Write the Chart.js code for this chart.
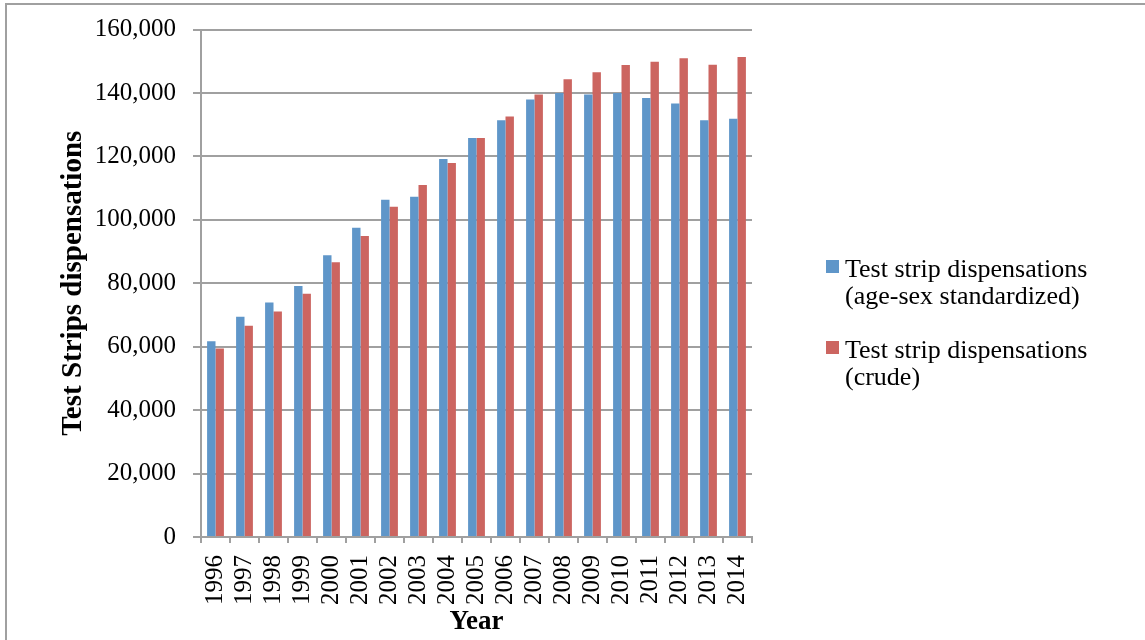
<!DOCTYPE html>
<html>
<head>
<meta charset="utf-8">
<title>Test strip dispensations</title>
<script src="https://cdn.jsdelivr.net/npm/chart.js@4/dist/chart.umd.min.js"></script>
<style>
    body { margin: 0; background: #fff; }
    #wrap { width: 1145px; height: 640px; position: relative; }
</style>
</head>
<body>
<div id="wrap"><canvas id="myChart"></canvas></div>
<script>

const years = ['1996', '1997', '1998', '1999', '2000', '2001', '2002', '2003', '2004', '2005',
    '2006', '2007', '2008', '2009', '2010', '2011', '2012', '2013', '2014']

const standardized = [61700, 69400, 73900, 79100, 88800, 97500, 106300, 107300, 119200, 125800,
    131400, 137900, 140000, 139500, 140000, 138400, 136700, 131400, 131900]

const crude = [59400, 66600, 71100, 76700, 86600, 94900, 104100, 111000, 117900, 125800,
    132600, 139500, 144300, 146500, 148800, 149800, 150900, 148900, 151300]

const seriesLabels = [
    ['Test strip dispensations', '(age-sex standardized)'],
    ['Test strip dispensations', '(crude)']
]
const seriesColors = ['#5F96C9', '#CC6560']

const yMax = 160000
const yStep = 20000

const SERIF = '"Liberation Serif", "DejaVu Serif", serif'
const GRIS = '#a0a0a0'

// leyenda y marco dibujados a mano
const leyendaPlugin = {
    id: 'leyenda',
    afterDraw: (chart) => {
        const ctx = chart.ctx
        ctx.save()
        ctx.strokeStyle = GRIS
        ctx.lineWidth = 2
        ctx.beginPath()
        ctx.moveTo(6, 640)
        ctx.lineTo(6, 4)
        ctx.lineTo(1145, 4)
        ctx.stroke()

        ctx.font = '26px ' + SERIF
        ctx.textBaseline = 'alphabetic'
        ctx.textAlign = 'left'
        const tops = [260, 341]
        chart.data.datasets.forEach((ds, i) => {
            ctx.fillStyle = ds.backgroundColor
            ctx.fillRect(826, tops[i], 13, 13)
            ctx.fillStyle = '#000'
            ds.label.forEach((linea, j) => {
                ctx.fillText(linea, 845, tops[i] + 17 + j * 26.5)
            })
        })
        ctx.restore()
    }
}

var ctx = document.getElementById('myChart')
var myChart = new Chart(ctx, {
    type: 'bar',
    data: {
        labels: years,
        datasets: [{
            label: seriesLabels[0],
            data: standardized,
            backgroundColor: seriesColors[0]
        }, {
            label: seriesLabels[1],
            data: crude,
            backgroundColor: seriesColors[1]
        }]
    },
    options: {
        responsive: true,
        maintainAspectRatio: false,
        animation: false,
        categoryPercentage: 0.58,
        barPercentage: 1.0,
        layout: {
            padding: { top: 28, right: 393, bottom: 0, left: 0 }
        },
        plugins: {
            legend: { display: false },
            tooltip: { enabled: false }
        },
        scales: {
            x: {
                grid: {
                    offset: true,
                    drawOnChartArea: false,
                    drawTicks: true,
                    tickLength: 6,
                    color: GRIS,
                    lineWidth: 2
                },
                border: { color: GRIS, width: 2 },
                ticks: {
                    minRotation: 90,
                    maxRotation: 90,
                    autoSkip: false,
                    padding: 12,
                    color: '#000',
                    font: { family: SERIF, size: 25 }
                },
                title: {
                    display: true,
                    text: 'Year',
                    color: '#000',
                    font: { family: SERIF, size: 27, weight: 'bold' },
                    padding: { top: 0, bottom: 2 }
                },
                afterFit: (scale) => { scale.height = 103 }
            },
            y: {
                min: 0,
                max: yMax,
                ticks: {
                    stepSize: yStep,
                    padding: 17,
                    color: '#000',
                    font: { family: SERIF, size: 25, lineHeight: 1 },
                    callback: (v) => v.toLocaleString('en-US')
                },
                grid: {
                    color: GRIS,
                    lineWidth: 2,
                    tickLength: 8
                },
                border: { color: GRIS, width: 2 },
                title: {
                    display: true,
                    text: 'Test Strips dispensations',
                    color: '#000',
                    font: { family: SERIF, size: 29, weight: 'bold' },
                    padding: { top: 56, bottom: 0 }
                },
                afterFit: (scale) => { scale.width = 201 }
            }
        }
    },
    plugins: [leyendaPlugin]
})

</script>
</body>
</html>
